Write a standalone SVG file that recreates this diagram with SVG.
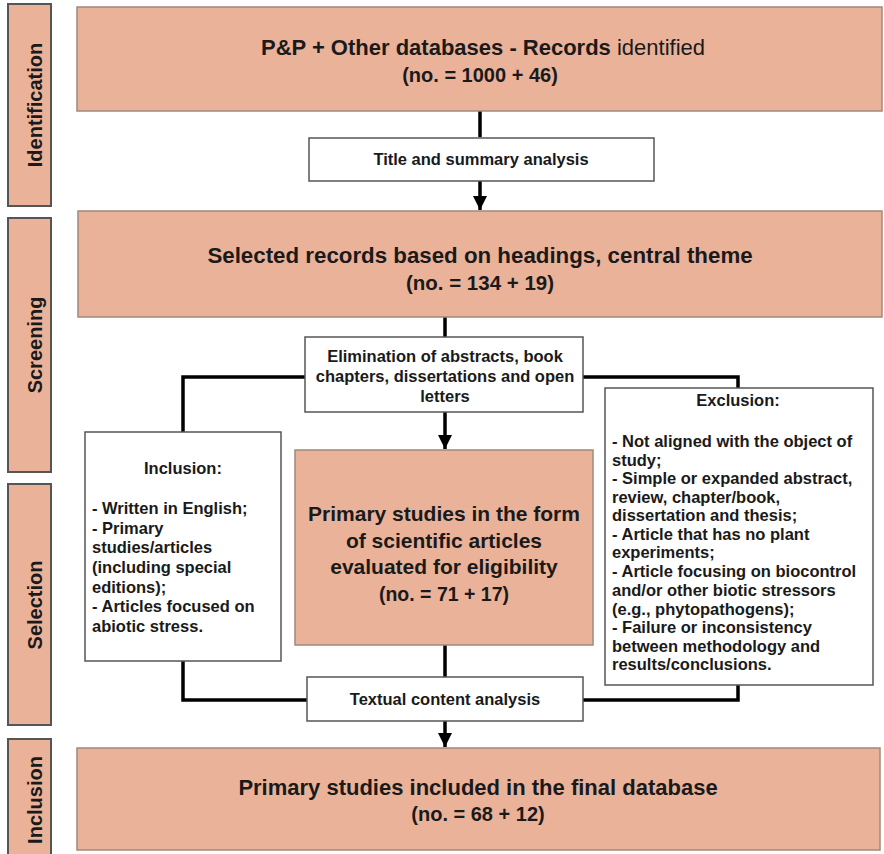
<svg xmlns="http://www.w3.org/2000/svg" width="884" height="854" viewBox="0 0 884 854">
<defs>
<style>
.stage{fill:#EBB29A;stroke:#555;stroke-width:2}
.pink{fill:#EBB29A;stroke:#A0887C;stroke-width:1.5}
.white{fill:#fff;stroke:#555;stroke-width:1.5}
.t{font-family:"Liberation Sans",Arial,sans-serif;font-weight:bold;fill:#1a1a1a}
.c{text-anchor:middle}
.s{font-size:16.5px}
.ln{fill:none;stroke:#000;stroke-width:3.5}
</style>
<marker id="ah" viewBox="0 0 10 10" refX="10" refY="5" markerWidth="4" markerHeight="4" markerUnits="strokeWidth" orient="auto">
<path d="M0,0 L10,5 L0,10 Z" fill="#000"/>
</marker>
</defs>
<rect width="884" height="854" fill="#fff"/>

<g id="stage-identification">
<rect class="stage" x="8" y="4" width="43" height="202"/>
<text class="t c" font-size="20" transform="translate(42,105) rotate(-90)">Identification</text>
</g>
<g id="stage-screening">
<rect class="stage" x="8" y="218" width="43" height="254"/>
<text class="t c" font-size="20" transform="translate(42,345) rotate(-90)">Screening</text>
</g>
<g id="stage-selection">
<rect class="stage" x="8" y="484" width="43" height="241"/>
<text class="t c" font-size="20" transform="translate(42,605) rotate(-90)">Selection</text>
</g>
<g id="stage-inclusion">
<rect class="stage" x="8" y="739" width="43" height="120"/>
<text class="t c" font-size="20" transform="translate(42,800) rotate(-90)">Inclusion</text>
</g>

<g id="connectors">
<path class="ln" d="M480,111 V137"/>
<path class="ln" d="M480,181 V210" marker-end="url(#ah)"/>
<path class="ln" d="M445,317 V337"/>
<path class="ln" d="M445,412 V449" marker-end="url(#ah)"/>
<path class="ln" d="M305,377 H183 V432"/>
<path class="ln" d="M583,377 H738 V388"/>
<path class="ln" d="M183,661 V700 H307"/>
<path class="ln" d="M583,700 H738 V685"/>
<path class="ln" d="M445,645 V677"/>
<path class="ln" d="M445,721 V747" marker-end="url(#ah)"/>
</g>

<g id="records-identified">
<rect class="pink" x="77" y="7" width="805" height="104"/>
<text class="t c" font-size="22" x="483" y="55">P&amp;P + Other databases - Records <tspan font-weight="normal">identified</tspan></text>
<text class="t c" font-size="20" x="480" y="82">(no. = 1000 + 46)</text>
</g>

<g id="title-summary">
<rect class="white" x="309" y="138" width="345" height="43"/>
<text class="t c" font-size="16.5" x="481" y="165">Title and summary analysis</text>
</g>

<g id="selected-records">
<rect class="pink" x="78" y="211" width="804" height="106"/>
<text class="t c" font-size="22.3" x="480" y="263">Selected records based on headings, central theme</text>
<text class="t c" font-size="20.5" x="480" y="290">(no. = 134 + 19)</text>
</g>

<g id="elimination">
<rect class="white" x="305" y="337" width="278" height="75"/>
<text class="t c s" x="445" y="362">Elimination of abstracts, book</text>
<text class="t c s" x="445" y="382">chapters, dissertations and open</text>
<text class="t c s" x="445" y="402">letters</text>
</g>

<g id="inclusion-criteria">
<rect class="white" x="85" y="432" width="196" height="229"/>
<text class="t c s" x="183" y="474">Inclusion:</text>
<text class="t s" x="92" y="514">- Written in English;</text>
<text class="t s" x="92" y="534">- Primary</text>
<text class="t s" x="92" y="553">studies/articles</text>
<text class="t s" x="92" y="573">(including special</text>
<text class="t s" x="92" y="593">editions);</text>
<text class="t s" x="92" y="612">- Articles focused on</text>
<text class="t s" x="92" y="632">abiotic stress.</text>
</g>

<g id="primary-studies-eligibility">
<rect class="pink" x="295" y="450" width="298" height="195"/>
<text class="t c" font-size="21" x="444" y="521">Primary studies in the form</text>
<text class="t c" font-size="21" x="444" y="548">of scientific articles</text>
<text class="t c" font-size="21" x="444" y="574">evaluated for eligibility</text>
<text class="t c" font-size="19.5" x="444" y="601">(no. = 71 + 17)</text>
</g>

<g id="exclusion-criteria">
<rect class="white" x="605" y="388" width="268" height="297"/>
<text class="t c s" x="738" y="406">Exclusion:</text>
<text class="t s" x="612" y="447">- Not aligned with the object of</text>
<text class="t s" x="612" y="466">study;</text>
<text class="t s" x="612" y="484">- Simple or expanded abstract,</text>
<text class="t s" x="612" y="503">review, chapter/book,</text>
<text class="t s" x="612" y="521">dissertation and thesis;</text>
<text class="t s" x="612" y="540">- Article that has no plant</text>
<text class="t s" x="612" y="558">experiments;</text>
<text class="t s" x="612" y="577">- Article focusing on biocontrol</text>
<text class="t s" x="612" y="596">and/or other biotic stressors</text>
<text class="t s" x="612" y="615">(e.g., phytopathogens);</text>
<text class="t s" x="612" y="633">- Failure or inconsistency</text>
<text class="t s" x="612" y="652">between methodology and</text>
<text class="t s" x="612" y="670">results/conclusions.</text>
</g>

<g id="textual-content">
<rect class="white" x="307" y="677" width="276" height="44"/>
<text class="t c s" x="445" y="705">Textual content analysis</text>
</g>

<g id="final-database">
<rect class="pink" x="77" y="748" width="803" height="102"/>
<text class="t c" font-size="22" x="478" y="795">Primary studies included in the final database</text>
<text class="t c" font-size="20" x="478" y="821">(no. = 68 + 12)</text>
</g>
</svg>
